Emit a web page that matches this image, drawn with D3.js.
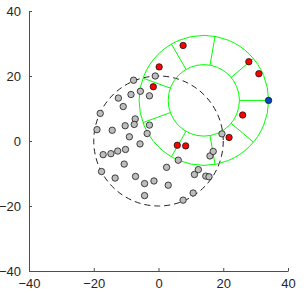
<!DOCTYPE html>
<html>
<head>
<meta charset="utf-8">
<script src="https://cdn.jsdelivr.net/npm/d3@7"></script>
<style>
  body { margin: 0; background: #fff; }
  svg text { font-family: "Liberation Sans", Arial, sans-serif; }
</style>
</head>
<body>
<div id="chart"></div>
<script>
// tick values
var xTicks = [-40, -20, 0, 20, 40];
var yTicks = [-40, -20, 0, 20, 40];

// dashed reference circle
var refCircle = { cx: 0, cy: 0, r: 20 };

// green ring
var ringCenter = [14, 12.5];
var ringInner = 11, ringOuter = 20;
var sectorAngles = [0, 40, 80, 120, 160, 200, 240, 280, 320];

// grey points
var greyX = [-7.7, -1.0, -5.6, -8.5, -2.8, -12.4, -10.9, -18.0, -7.2, -7.5, -10.3, -2.8, -19.0, -14.3, -3.5, -9.0, -5.7, -10.2, -12.6, -14.7, -17.1, -10.6, -17.6, -13.4, -7.1, -4.3, -1.4, -4.3, 2.5, 3.0, 6.1, 7.6, 10.7, 11.1, 12.3, 14.6, 15.6, 15.9, 16.9, 19.6];
var greyY = [18.7, 20.0, 15.3, 14.3, 13.9, 13.2, 10.6, 8.5, 6.8, 5.1, 4.7, 4.9, 3.5, 3.3, 2.3, 1.3, -0.9, -2.6, -3.1, -3.9, -4.2, -7.1, -9.4, -11.4, -10.9, -13.1, -12.3, -16.8, -8.1, -13.6, -5.9, -18.2, -16.0, -10.3, -8.8, -10.8, -11.0, -4.6, -3.2, 2.2];

// red points
var redX = [7.6, 0.2, -1.6, 27.9, 31.0, 26.0, 21.8, 5.8, 8.4];
var redY = [29.4, 22.8, 16.7, 24.4, 20.7, 8.0, 1.1, -1.3, -1.5];

// blue point
var blueX = [34];
var blueY = [12.5];

var W = 304, H = 294;
var margin = { left: 29, right: 16, top: 11, bottom: 23 };

var svg = d3.select("#chart").append("svg").attr("width", W).attr("height", H);

var x = d3.scaleLinear().domain([-40, 40]).range([margin.left, W - margin.right]);
var y = d3.scaleLinear().domain([-40, 40]).range([H - margin.bottom, margin.top]);

var axisColor = "#4d4d4d";

// axes
var xAxis = svg.append("g")
  .attr("transform", "translate(0," + (H - margin.bottom) + ")")
  .call(d3.axisBottom(x).tickValues(xTicks).tickSizeInner(-3).tickSizeOuter(0).tickPadding(8));
var yAxis = svg.append("g")
  .attr("transform", "translate(" + margin.left + ",0)")
  .call(d3.axisLeft(y).tickValues(yTicks).tickSizeInner(-3).tickSizeOuter(0).tickPadding(8));

[xAxis, yAxis].forEach(function(a){
  a.select(".domain").attr("stroke", axisColor);
  a.selectAll(".tick line").attr("stroke", axisColor);
  a.selectAll(".tick text").attr("fill", "#262626").style("font-size", "13px");
});

var sx = function(v){ return x(v) - x(0); };

// dashed circle
svg.append("ellipse")
  .attr("cx", x(refCircle.cx)).attr("cy", y(refCircle.cy))
  .attr("rx", sx(refCircle.r)).attr("ry", y(0) - y(refCircle.r))
  .attr("fill", "none").attr("stroke", "#222").attr("stroke-width", 1)
  .attr("stroke-dasharray", "6,4");

// ring
var g = svg.append("g").attr("fill", "none").attr("stroke", "#00ff00").attr("stroke-width", 1);
[ringInner, ringOuter].forEach(function(r){
  g.append("ellipse")
    .attr("cx", x(ringCenter[0])).attr("cy", y(ringCenter[1]))
    .attr("rx", sx(r)).attr("ry", y(0) - y(r));
});
g.selectAll("line.sector").data(sectorAngles).enter().append("line")
  .attr("x1", function(a){ return x(ringCenter[0] + ringInner * Math.cos(a * Math.PI / 180)); })
  .attr("y1", function(a){ return y(ringCenter[1] + ringInner * Math.sin(a * Math.PI / 180)); })
  .attr("x2", function(a){ return x(ringCenter[0] + ringOuter * Math.cos(a * Math.PI / 180)); })
  .attr("y2", function(a){ return y(ringCenter[1] + ringOuter * Math.sin(a * Math.PI / 180)); });

// points
function drawPoints(xs, ys, fill) {
  svg.append("g").selectAll("circle").data(d3.range(xs.length)).enter().append("circle")
    .attr("cx", function(i){ return x(xs[i]); })
    .attr("cy", function(i){ return y(ys[i]); })
    .attr("r", 3.2)
    .attr("fill", fill).attr("stroke", "#1a1a1a").attr("stroke-width", 0.8);
}
drawPoints(greyX, greyY, "#bdbdbd");
drawPoints(redX, redY, "#ff0000");
drawPoints(blueX, blueY, "#0047c8");
</script>
</body>
</html>
